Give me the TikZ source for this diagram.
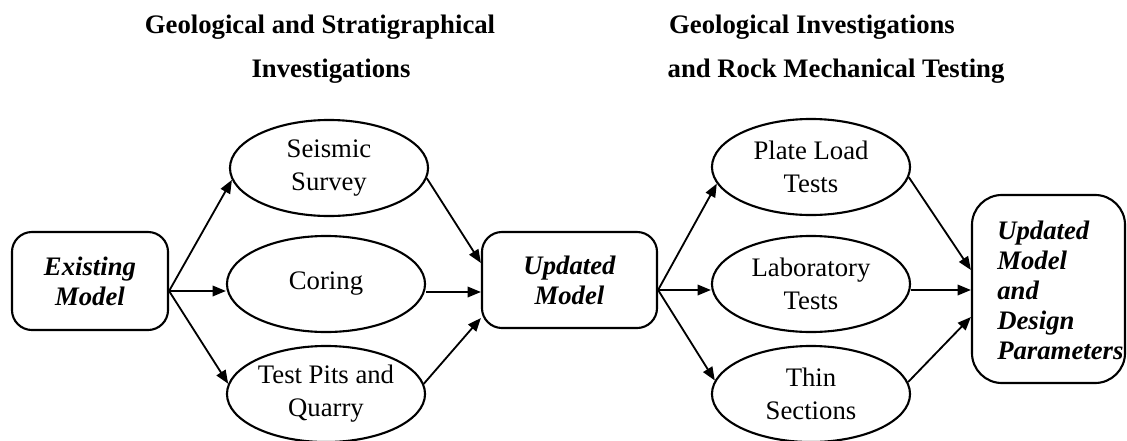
\documentclass[tikz,border=0pt]{standalone}
\usepackage{fontspec}
\setmainfont{Liberation Serif}
\usetikzlibrary{shapes.geometric,arrows.meta,calc}
\begin{document}
\begin{tikzpicture}[x=0.025cm,y=-0.025cm,
  rbox/.style={draw,line width=1.5pt,rounded corners=0.5cm,inner sep=0pt,align=center,
    font=\fontsize{19}{21.5}\selectfont\bfseries\itshape},
  oval/.style={draw,ellipse,line width=1.5pt,minimum width=4.95cm,minimum height=2.4cm,
    inner sep=0pt,align=center,font=\fontsize{19}{23.5}\selectfont},
  head/.style={anchor=base,inner sep=0pt,font=\fontsize{19}{22}\selectfont\bfseries},
  arr/.style={line width=1.3pt,-{Triangle[length=9.5pt,width=7.5pt]}}]
\useasboundingbox (0,0) rectangle (1127,441);

% headings
\node[head] (h1a) at (320,33) {Geological and Stratigraphical};
\node[head] (h1b) at (331,77) {Investigations};
\node[head] (h2a) at (812,33) {Geological Investigations};
\node[head] (h2b) at (836,77) {and Rock Mechanical Testing};

% boxes
\node[rbox,minimum width=3.9cm,minimum height=2.45cm] (em) at (90,281) {Existing\\Model};
\node[rbox,minimum width=4.375cm,minimum height=2.4cm] (mid) at (569.5,280) {Updated\\Model};
\node[rbox,rounded corners=0.75cm,minimum width=3.825cm,minimum height=4.7cm] (fin) at (1048.5,289) {};
\node[anchor=west,inner sep=0pt,align=left,font=\fontsize{19}{21.3}\selectfont\bfseries\itshape]
  (fintext) at (997,290) {Updated\\Model\\and\\Design\\Parameters};

% ellipses
\node[oval] (seis) at (329,168) {Seismic\\Survey};
\node[oval] (cor)  at (326,284) {Coring};
\node[oval] (pits) at (326,394) {Test Pits and\\Quarry};
\node[oval] (plate) at (811,167) {Plate Load\\Tests};
\node[oval] (lab)   at (811,284) {Laboratory\\Tests};
\node[oval] (thin)  at (811,394) {Thin\\Sections};

% connector points
\coordinate (ex) at ($(em.east)+(0,10)$);
\coordinate (mi1) at ($(mid.west)+(0,-17)$);
\coordinate (mi2) at ($(mid.west)+(0,12)$);
\coordinate (mi3) at ($(mid.west)+(0,38)$);
\coordinate (mx) at ($(mid.east)+(0,10)$);
\coordinate (fi1) at ($(fin.west)+(0,-19)$);
\coordinate (fi2) at ($(fin.west)+(0,1)$);
\coordinate (fi3) at ($(fin.west)+(0,28)$);

% arrows, first stage
\draw[arr] (ex) -- (seis.187);
\draw[arr] (ex) -- (ex -| cor.west);
\draw[arr] (ex) -- (pits.174);
\draw[arr] (seis.354) -- (mi1);
\draw[arr] (cor.east |- mi2) -- (mi2);
\draw[arr] (pits.6) -- (mi3);

% arrows, second stage
\draw[arr] (mx) -- (plate.190);
\draw[arr] (mx) -- (mx -| lab.west);
\draw[arr] (mx) -- (thin.172);
\draw[arr] (plate.354) -- (fi1);
\draw[arr] (lab.east |- fi2) -- (fi2);
\draw[arr] (thin.7) -- (fi3);
\end{tikzpicture}
\end{document}
